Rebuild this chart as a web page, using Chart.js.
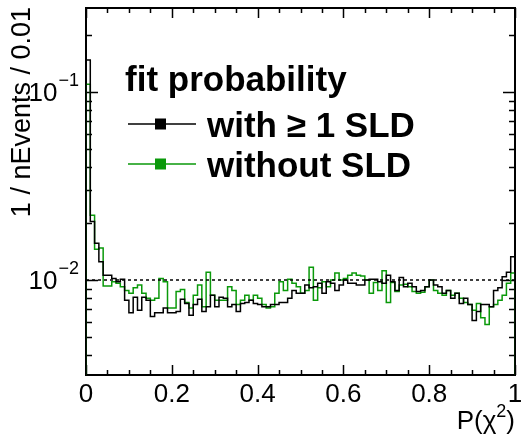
<!DOCTYPE html>
<html>
<head>
<meta charset="utf-8">
<script src="https://cdn.jsdelivr.net/npm/chart.js@4.4.1/dist/chart.umd.min.js"></script>
<style>
    body { margin: 0; background: #fff; }
    #wrap { width: 521px; height: 437px; }
</style>
</head>
<body>
<div id="wrap"><canvas id="fitprob" width="521" height="437"></canvas></div>
<script>
// P(chi2) histogram, 100 bins of 0.01, normalised to 1 / nEvents
const binWidth = 0.01;
const withSLD = [
    0.148, 0.0205, 0.0157, 0.0125, 0.0106, 0.0106, 0.0102, 0.0098, 0.0101, 0.0078,
    0.0067, 0.0081, 0.0069, 0.0081, 0.0078, 0.0064, 0.0067, 0.0067, 0.0071, 0.0067,
    0.0067, 0.0068, 0.0079, 0.0075, 0.0065, 0.0074, 0.0079, 0.0068, 0.0072, 0.0083,
    0.0072, 0.0081, 0.0080, 0.0072, 0.0074, 0.0068, 0.0075, 0.0076, 0.0078, 0.0075,
    0.0074, 0.0072, 0.0072, 0.0074, 0.0074, 0.0076, 0.0076, 0.0080, 0.0088, 0.0085,
    0.0085, 0.0094, 0.0091, 0.0092, 0.0096, 0.0085, 0.0098, 0.0096, 0.0088, 0.0094,
    0.0100, 0.0096, 0.0096, 0.0094, 0.0094, 0.0100, 0.0101, 0.0101, 0.0098, 0.0096,
    0.0106, 0.0098, 0.0088, 0.0103, 0.0092, 0.0096, 0.0092, 0.0087, 0.0088, 0.0092,
    0.0100, 0.0094, 0.0092, 0.0085, 0.0088, 0.0080, 0.0085, 0.0075, 0.0080, 0.0074,
    0.0061, 0.0068, 0.0074, 0.0074, 0.0072, 0.0088, 0.0091, 0.0104, 0.0110, 0.0133
];
const withoutSLD = [
    0.110, 0.0221, 0.0146, 0.0148, 0.0093, 0.0093, 0.0098, 0.0096, 0.0092, 0.0088,
    0.0085, 0.0091, 0.0094, 0.0085, 0.0080, 0.0078, 0.0080, 0.0102, 0.0098, 0.0071,
    0.0071, 0.0087, 0.0089, 0.0076, 0.0071, 0.0083, 0.0094, 0.0072, 0.0110, 0.0083,
    0.0078, 0.0078, 0.0078, 0.0092, 0.0088, 0.0074, 0.0078, 0.0083, 0.0078, 0.0083,
    0.0080, 0.0074, 0.0071, 0.0072, 0.0085, 0.0098, 0.0088, 0.0101, 0.0096, 0.0092,
    0.0085, 0.0088, 0.0117, 0.0078, 0.0091, 0.0098, 0.0092, 0.0100, 0.0109, 0.0100,
    0.0102, 0.0106, 0.0109, 0.0106, 0.0105, 0.0100, 0.0085, 0.0097, 0.0088, 0.0112,
    0.0076, 0.0097, 0.0087, 0.0094, 0.0095, 0.0092, 0.0087, 0.0085, 0.0086, 0.0092,
    0.0100, 0.0088, 0.0085, 0.0083, 0.0088, 0.0083, 0.0085, 0.0080, 0.0076, 0.0074,
    0.0069, 0.0075, 0.0063, 0.0058, 0.0072, 0.0074, 0.0078, 0.0083, 0.0096, 0.0109
];
const refLevel = 0.01;
const xTickLabels = ['0', '0.2', '0.4', '0.6', '0.8', '1'];
const xTickValues = [0, 0.2, 0.4, 0.6, 0.8, 1];
const yTickValues = [0.01, 0.1];
const yTickExponents = ['\u22122', '\u22121'];
const yMin = 0.003125;
const yMax = 0.2798;

// turn bin contents into a closed step outline (drops to the frame at both ends)
// with stepped:'before' each segment keeps the value of its left point
function histPoints(values) {
    const n = values.length;
    const pts = [{ x: 0, y: yMin }];
    values.forEach(function(v, i) {
        pts.push({ x: i * binWidth, y: v });
    });
    pts.push({ x: n * binWidth, y: values[n - 1] });
    pts.push({ x: n * binWidth, y: yMin });
    return pts;
}

const FONT = '"Liberation Sans", Arial, Helvetica, sans-serif';
const GREEN = '#0a990a';

// frame and inward ticks go under the histograms, text on top
const rootFrame = {
    id: 'rootFrame',
    beforeDatasetsDraw(chart) {
        const ctx = chart.ctx;
        const a = chart.chartArea;
        const xs = chart.scales.x;
        const ys = chart.scales.y;
        ctx.save();
        ctx.strokeStyle = '#000';
        ctx.lineWidth = 1.5;

        // x ticks, bottom and top
        for (let i = 0; i <= 20; i++) {
            const px = Math.round(xs.getPixelForValue(i * 0.05)) + 0.5;
            const len = (i % 4 === 0) ? 10 : 5;
            ctx.beginPath();
            ctx.moveTo(px, a.bottom); ctx.lineTo(px, a.bottom - len);
            ctx.moveTo(px, a.top); ctx.lineTo(px, a.top + len);
            ctx.stroke();
        }
        // log y ticks, left and right
        [0.001, 0.01, 0.1].forEach(function(dec) {
            for (let m = 1; m <= 9; m++) {
                const v = dec * m;
                if (v < yMin || v > yMax) continue;
                const py = Math.round(ys.getPixelForValue(v)) + 0.5;
                const len = (m === 1) ? 12 : 6;
                ctx.beginPath();
                ctx.moveTo(a.left, py); ctx.lineTo(a.left + len, py);
                ctx.moveTo(a.right, py); ctx.lineTo(a.right - len, py);
                ctx.stroke();
            }
        });

        // frame
        ctx.lineWidth = 2;
        ctx.strokeRect(a.left, a.top, a.right - a.left, a.bottom - a.top);
        ctx.restore();
    },
    afterDatasetsDraw(chart) {
        const ctx = chart.ctx;
        const xs = chart.scales.x;
        const ys = chart.scales.y;
        ctx.save();
        ctx.fillStyle = '#000';

        // x tick labels
        ctx.font = '26px ' + FONT;
        ctx.textAlign = 'center';
        ctx.textBaseline = 'alphabetic';
        xTickValues.forEach(function(v, i) {
            ctx.fillText(xTickLabels[i], xs.getPixelForValue(v), 402);
        });

        // y tick labels 10^n
        yTickValues.forEach(function(v, i) {
            const py = ys.getPixelForValue(v);
            ctx.font = '18px ' + FONT;
            ctx.textAlign = 'right';
            ctx.fillText(yTickExponents[i], 79, py - 6);
            const supW = ctx.measureText(yTickExponents[i]).width;
            ctx.font = '26px ' + FONT;
            ctx.fillText('10', 79 - supW - 1, py + 9);
        });

        // axis titles
        ctx.font = '26px ' + FONT;
        ctx.textAlign = 'right';
        ctx.fillText(')', 515, 429);
        let w = ctx.measureText(')').width;
        ctx.font = '18px ' + FONT;
        ctx.fillText('2', 515 - w, 417);
        w += ctx.measureText('2').width;
        ctx.font = '26px ' + FONT;
        ctx.fillText('P(\u03c7', 515 - w, 429);

        ctx.save();
        ctx.translate(30, 7);
        ctx.rotate(-Math.PI / 2);
        ctx.font = '27px ' + FONT;
        ctx.textAlign = 'right';
        ctx.fillText('1 / nEvents / 0.01', 0, 0);
        ctx.restore();

        // legend
        ctx.textAlign = 'left';
        ctx.font = 'bold 35px ' + FONT;
        ctx.fillText('fit probability', 125, 91);
        [['with \u2265 1 SLD', '#000', 124], ['without SLD', GREEN, 164]].forEach(function(e) {
            ctx.strokeStyle = e[1];
            ctx.fillStyle = e[1];
            ctx.lineWidth = 1.5;
            ctx.beginPath();
            ctx.moveTo(128, e[2]); ctx.lineTo(196, e[2]);
            ctx.stroke();
            ctx.fillRect(155, e[2] - 5.5, 11, 11);
            ctx.fillStyle = '#000';
            ctx.fillText(e[0], 207, e[2] + 13);
        });
        ctx.restore();
    }
};

const ctx = document.getElementById('fitprob').getContext('2d');
new Chart(ctx, {
    type: 'line',
    data: {
        datasets: [
            {
                label: 'reference',
                data: [{ x: 0, y: refLevel }, { x: 1, y: refLevel }],
                borderColor: '#000',
                borderWidth: 1.5,
                borderDash: [3, 3],
                pointRadius: 0
            },
            {
                label: 'with \u2265 1 SLD',
                data: histPoints(withSLD),
                borderColor: '#000',
                borderWidth: 1.5,
                stepped: 'before',
                pointRadius: 0
            },
            {
                label: 'without SLD',
                data: histPoints(withoutSLD),
                borderColor: GREEN,
                borderWidth: 1.5,
                stepped: 'before',
                pointRadius: 0
            }
        ]
    },
    options: {
        responsive: false,
        animation: false,
        layout: { padding: { left: 86, right: 6, top: 8, bottom: 62 } },
        plugins: { legend: { display: false }, tooltip: { enabled: false } },
        scales: {
            x: { type: 'linear', min: 0, max: 1, display: false },
            y: { type: 'logarithmic', min: yMin, max: yMax, display: false }
        }
    },
    plugins: [rootFrame]
});
</script>
</body>
</html>
